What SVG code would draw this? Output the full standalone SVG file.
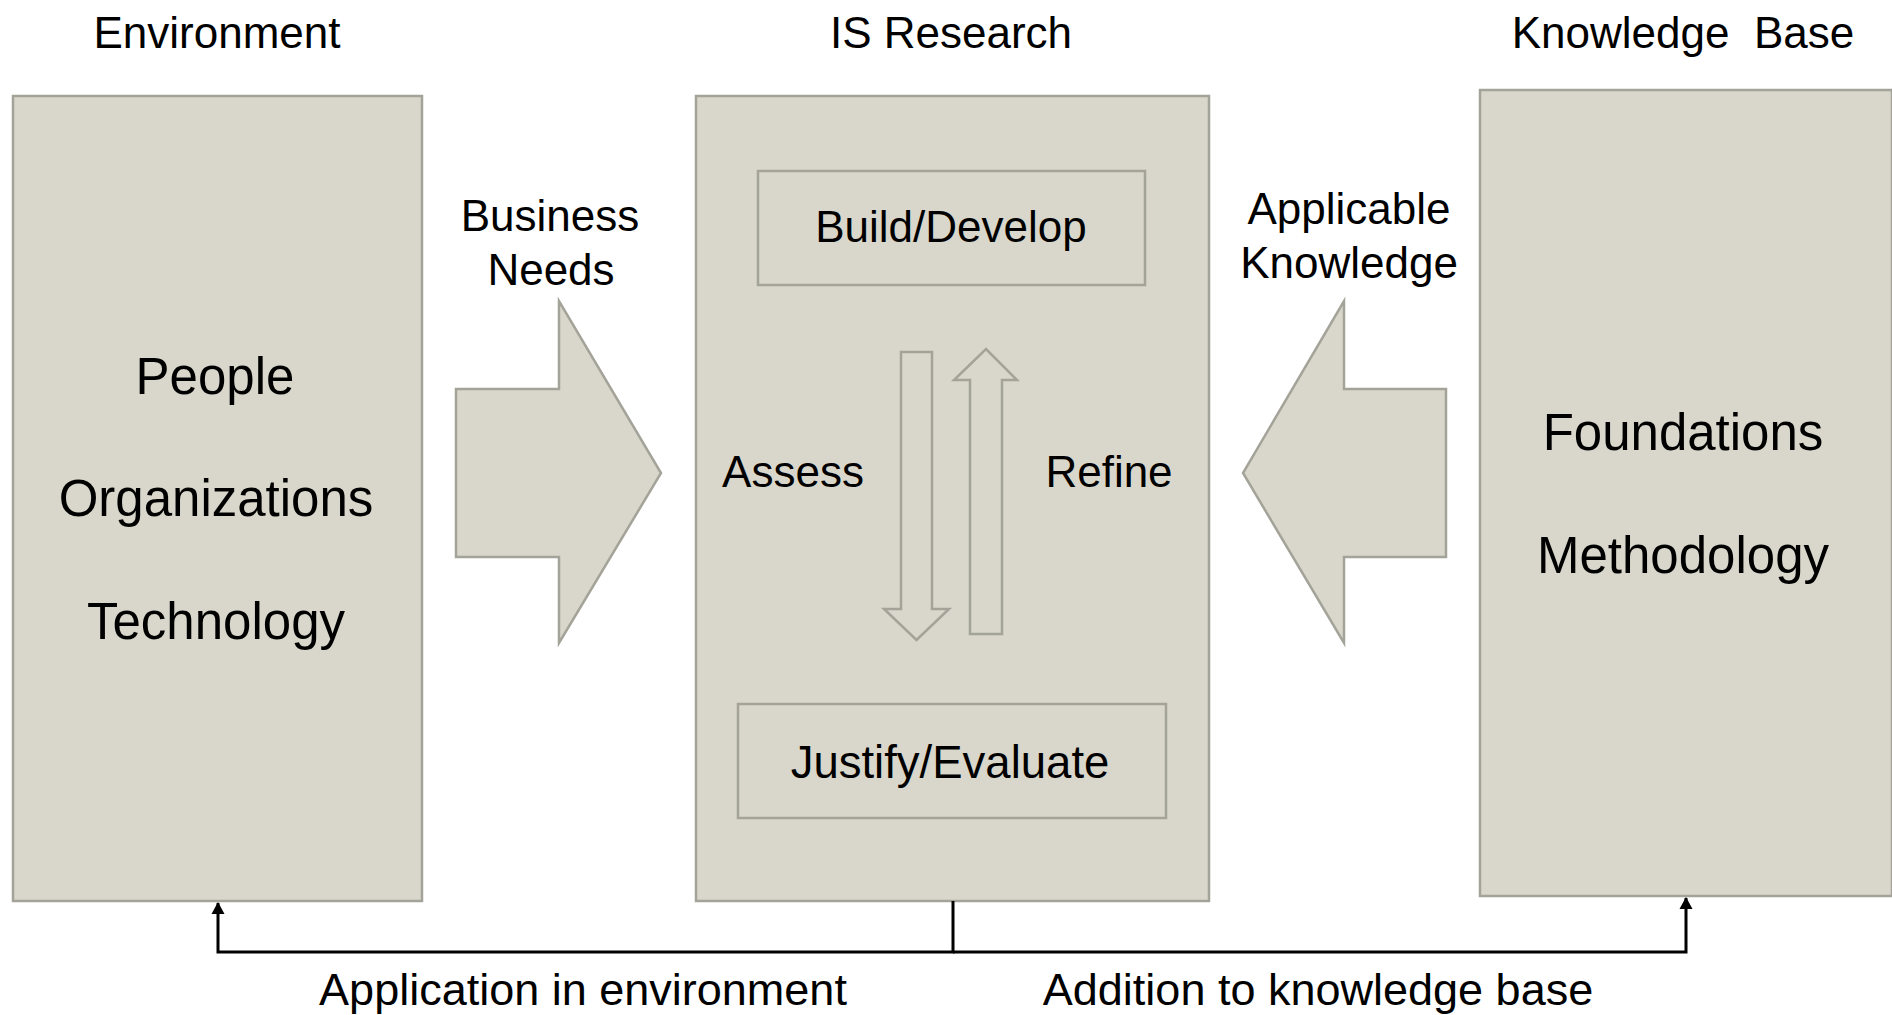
<svg xmlns="http://www.w3.org/2000/svg" width="1892" height="1015" viewBox="0 0 1892 1015">
<style>
.box{fill:#d9d7cb;stroke:#a4a399;stroke-width:2.5}
.t{font-family:"Liberation Sans",Arial,sans-serif;font-size:44px;fill:#000;text-anchor:middle}
.tb{font-family:"Liberation Sans",Arial,sans-serif;font-size:51px;fill:#000;text-anchor:middle}
.bl{font-size:45px}
.c{fill:none;stroke:#000;stroke-width:3}
</style>
<defs>
<marker id="ah" markerWidth="12" markerHeight="16" refX="11" refY="7" orient="auto" markerUnits="userSpaceOnUse">
<path d="M0,0.5 L12,7 L0,13.5 Z" fill="#000"/>
</marker>
</defs>
<rect width="1892" height="1015" fill="#fff"/>
<g id="environment">
<rect class="box" x="13" y="96" width="409" height="805"/>
<text class="t" x="217" y="48">Environment</text>
<text class="tb" x="215" y="394">People</text>
<text class="tb" x="216" y="516">Organizations</text>
<text class="tb" x="216" y="639">Technology</text>
</g>
<g id="is-research">
<rect class="box" x="696" y="96" width="513" height="805"/>
<text class="t" x="951" y="48">IS Research</text>
</g>
<g id="build-develop">
<rect class="box" x="758" y="171" width="387" height="114"/>
<text class="t" x="951" y="242">Build/Develop</text>
</g>
<g id="justify-evaluate">
<rect class="box" x="738" y="704" width="428" height="114"/>
<text class="t" x="950" y="778" style="font-size:45.5px">Justify/Evaluate</text>
</g>
<g id="assess">
<polygon class="box" points="901,352 932,352 932,609 949,609 916.5,640 884,609 901,609"/>
<text class="t" x="793" y="487">Assess</text>
</g>
<g id="refine">
<polygon class="box" points="970,634 1002,634 1002,380 1017,380 986,349 954,380 970,380"/>
<text class="t" x="1109" y="487">Refine</text>
</g>
<g id="knowledge-base">
<rect class="box" x="1480" y="90" width="412" height="806"/>
<text class="t" x="1683" y="48" xml:space="preserve">Knowledge  Base</text>
<text class="tb" x="1683" y="450">Foundations</text>
<text class="tb" x="1683" y="573">Methodology</text>
</g>
<g id="business-needs">
<polygon class="box" points="456,389 559,389 559,301 661,473 559,643 559,557 456,557"/>
<text class="t" x="550" y="231">Business</text>
<text class="t" x="551" y="285">Needs</text>
</g>
<g id="applicable-knowledge">
<polygon class="box" points="1446,389 1344,389 1344,301 1243,473 1344,643 1344,557 1446,557"/>
<text class="t" x="1349" y="224">Applicable</text>
<text class="t" x="1349" y="278">Knowledge</text>
</g>
<g id="connectors">
<polyline class="c" points="953,901 953,952 218,952 218,903" marker-end="url(#ah)"/>
<polyline class="c" points="953,952 1686,952 1686,898" marker-end="url(#ah)"/>
<text class="t bl" x="583" y="1005">Application in environment</text>
<text class="t bl" x="1318" y="1005">Addition to knowledge base</text>
</g>
</svg>
